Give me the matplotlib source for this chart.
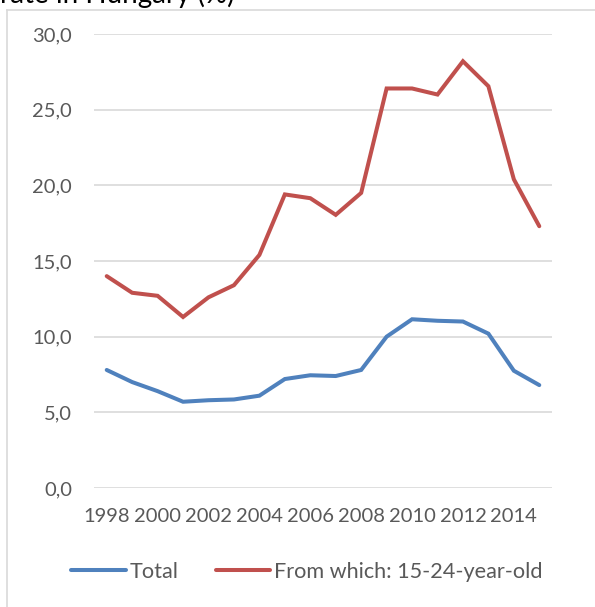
import matplotlib
matplotlib.use("Agg")
import matplotlib.pyplot as plt
from matplotlib.lines import Line2D
from matplotlib.ticker import FuncFormatter, FixedLocator

years = list(range(1998, 2016))
total = [7.8, 7.0, 6.4, 5.7, 5.8, 5.85, 6.1, 7.2, 7.45, 7.4, 7.8, 10.0, 11.15, 11.05, 11.0, 10.2, 7.75, 6.8]
youth = [14.0, 12.9, 12.7, 11.3, 12.6, 13.4, 15.4, 19.4, 19.15, 18.05, 19.5, 26.4, 26.4, 26.0, 28.2, 26.55, 20.4, 17.3]
series_names = ["Total", "From which: 15-24-year-old"]
title_text = "rate in Hungary (%)"
xtick_years = list(range(1998, 2015, 2))
yticks = [0, 5, 10, 15, 20, 25, 30]

W, H = 595, 607
fig = plt.figure(figsize=(W / 100, H / 100), dpi=100)
FONT = ["Lato", "DejaVu Sans"]
TXT = "#595959"

ax = fig.add_axes([94 / W, 1 - 488 / H, (552 - 94) / W, (488 - 34) / H])
ax.plot(years, total, color="#4F81BD", lw=2.9, solid_capstyle="round", solid_joinstyle="miter", label=series_names[0])
ax.plot(years, youth, color="#C0504D", lw=2.9, solid_capstyle="round", solid_joinstyle="miter", label=series_names[1])
ax.set_xlim(years[0] - 0.5, years[-1] + 0.5)
ax.set_ylim(0, 30)
ax.yaxis.set_major_locator(FixedLocator(yticks))
ax.yaxis.set_major_formatter(FuncFormatter(lambda v, p: f"{v:.1f}".replace(".", ",")))
ax.set_xticks(xtick_years)
ax.set_xticklabels([str(y) for y in xtick_years])
ax.grid(axis="y", color="#D9D9D9", lw=1.2)
ax.set_axisbelow(True)
for s in ax.spines.values():
    s.set_visible(False)
ax.tick_params(length=0, labelcolor=TXT, labelsize=14.5)
ax.tick_params(axis="y", pad=15.8)
ax.tick_params(axis="x", pad=14.5)
for lab in ax.get_xticklabels() + ax.get_yticklabels():
    lab.set_family(FONT)

# chart border (left and top edges visible)
fig.add_artist(Line2D([6.5 / W, 6.5 / W], [0, 1 - 9.5 / H], transform=fig.transFigure, color="#D9D9D9", lw=1.2))
fig.add_artist(Line2D([6.5 / W, 1], [1 - 9.5 / H, 1 - 9.5 / H], transform=fig.transFigure, color="#D9D9D9", lw=1.2))

fig.text(0, 1 - 3 / H, title_text, va="baseline", ha="left", fontsize=20, color="#000000", family=FONT)

fig.legend(loc="center", bbox_to_anchor=(307 / W, 1 - 572 / H), ncol=2, frameon=False,
           prop={"family": FONT, "size": 15.6}, labelcolor=TXT, handlelength=2.5,
           handletextpad=0.2, columnspacing=1.7)

fig.savefig("out.png", dpi=100)
